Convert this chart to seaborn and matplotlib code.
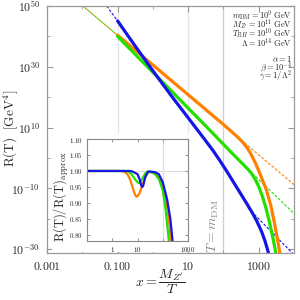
import numpy as np
import pandas as pd
import matplotlib
matplotlib.use("Agg")
import matplotlib.pyplot as plt
import seaborn as sns
from matplotlib.patches import Rectangle
from matplotlib.ticker import FixedLocator, FixedFormatter, NullFormatter

# ---------------- data (x = M_Z'/T ; values are log10 R(T)) ----------------
orange_lx = [-1.0, 0.0, 1.0, 2.0, 2.4, 2.55, 2.64, 2.75, 2.9, 3.05, 3.21, 3.34, 3.44, 3.52, 3.58, 3.62]
orange_logR = [40.4, 30.6, 20.8, 11.0, 6.9, 5.1, 3.8, 1.9, -1.5, -5.6, -10.3, -15.5, -21.1, -26.0, -30.0, -33.0]
green_lx = [-1.0, 0.0, 0.477, 1.0, 1.5, 2.14, 2.7, 2.8, 2.9, 3.0, 3.1, 3.2, 3.3, 3.4, 3.5]
green_logR = [40.0, 28.2, 22.6, 16.4, 10.5, 2.8, -3.8, -5.2, -7.0, -9.4, -12.5, -16.3, -20.9, -26.2, -32.2]
blue_lx = [-1.0, -0.5, 0.0, 0.5, 1.0, 1.5, 1.7, 1.9, 2.1, 2.35, 2.59, 2.8, 2.95, 3.08, 3.18, 3.26, 3.3]
blue_logR = [45.1, 36.8, 28.7, 20.8, 13.2, 5.6, 2.5, -0.9, -4.5, -9.2, -13.7, -17.7, -20.9, -24.2, -27.4, -30.6, -32.5]

# asymptotic (approximate) power laws, dashed
orange_hi_lx = [-1.98, -1.0]
orange_hi_logR = [50.0, 40.3]
green_hi_lx = [-1.98, -1.0]
green_hi_logR = [50.0, 40.3]
blue_hi_lx = [-1.31, -1.0]
blue_hi_logR = [50.0, 45.1]
orange_lo_lx = [2.5, 4.0]
orange_lo_logR = [5.9, -8.8]
green_lo_lx = [2.55, 4.0]
green_lo_logR = [-2.1, -18.3]
blue_lo_lx = [2.7, 4.0]
blue_lo_logR = [-16.5, -31.9]

# inset: R(T)/R(T)_approx
in_orange_x = [0.1, 1, 2, 3, 4, 5, 6, 7, 8, 9, 10, 12, 15, 20, 25, 30, 40, 60, 80, 100, 140, 180, 210]
in_orange_r = [1.0, 1.0, 1.0, 0.998, 0.99, 0.975, 0.956, 0.939, 0.926, 0.92, 0.921, 0.93, 0.952, 0.978, 0.993, 0.997, 0.996, 0.988, 0.972, 0.95, 0.9, 0.84, 0.78]
in_green_x = [0.1, 1, 3, 4, 5, 6, 8, 10, 11, 13, 16, 20, 25, 30, 40, 50, 70, 100, 130, 160, 175]
in_green_r = [1.0, 1.0, 1.0, 0.999, 0.995, 0.988, 0.974, 0.965, 0.9625, 0.965, 0.978, 0.992, 0.998, 0.998, 0.994, 0.99, 0.975, 0.94, 0.88, 0.81, 0.78]
in_blue_x = [0.1, 1, 5, 6, 8, 10, 12, 14, 15.5, 17, 20, 26, 35, 50, 70, 100, 150, 200, 245]
in_blue_r = [1.0, 1.0, 1.0, 0.999, 0.994, 0.99, 0.975, 0.955, 0.95, 0.955, 0.98, 0.998, 0.998, 0.996, 0.99, 0.965, 0.91, 0.85, 0.78]

labels_params = [r"$m_{\rm DM} = 10^{9}\ \mathrm{GeV}$",
                 r"$M_{Z^\prime} = 10^{11}\ \mathrm{GeV}$",
                 r"$T_{RH} = 10^{10}\ \mathrm{GeV}$",
                 r"$\Lambda = 10^{14}\ \mathrm{GeV}$",
                 r"$\alpha = 1$",
                 r"$\beta = 10^{-4}$",
                 r"$\gamma = 1/\Lambda^{2}$"]
xticks_main = [1e-3, 1e-1, 1e1, 1e3]
xticklabels_main = ["$0.001$", "$0.100$", "$10$", "$1000$"]
yticks_main = [1e50, 1e30, 1e10, 1e-10, 1e-30]
yticklabels_main = [r"$10^{50}$", r"$10^{30}$", r"$10^{10}$", r"$10^{-10}$", r"$10^{-30}$"]
xticks_in = [1, 10, 1000]
xticklabels_in = [r"$\mathbf{1}$", r"$\mathbf{10}$", r"$\mathbf{1000}$"]
yticks_in = [0.80, 0.85, 0.90, 0.95, 1.00, 1.05, 1.10]
yticklabels_in = [r"$\mathbf{%.2f}$" % v for v in yticks_in]

ORANGE = "#ff8000"
GREEN = "#22e000"
BLUE = "#1515e8"

sns.set_style("ticks")
plt.rcParams["mathtext.fontset"] = "cm"
plt.rcParams["font.family"] = ["DejaVu Serif"]

fig = plt.figure(figsize=(3, 3), dpi=100)
ax = fig.add_axes([47/300, 47/300, 247/300, 247/300])
ax.set_xscale("log")
ax.set_yscale("log")


def df(lx, lr):
    return pd.DataFrame({"x": 10.0 ** np.asarray(lx, float), "R": 10.0 ** np.asarray(lr, float)})

# grid lines
for gx, c in [(0.1, "#e4e4e4"), (10, "#e4e4e4"), (100, "#cfcfcf")]:
    ax.axvline(gx, color=c, lw=0.9, zorder=0)

for (lx, lr, c, ls) in [(orange_hi_lx, orange_hi_logR, ORANGE, (0, (2, 2))),
                        (green_hi_lx, green_hi_logR, GREEN, (2, (2, 2))),
                        (blue_hi_lx, blue_hi_logR, BLUE, (0, (2.5, 1.5))),
                        (orange_lo_lx, orange_lo_logR, ORANGE, (0, (2.5, 1.5))),
                        (green_lo_lx, green_lo_logR, GREEN, (0, (2.5, 1.5))),
                        (blue_lo_lx, blue_lo_logR, BLUE, (0, (2.5, 1.5)))]:
    sns.lineplot(data=df(lx, lr), x="x", y="R", ax=ax, color=c, sort=False, estimator=None,
                 lw=0.8, linestyle=ls)

for (lx, lr, c) in [(orange_lx, orange_logR, ORANGE), (green_lx, green_logR, GREEN), (blue_lx, blue_logR, BLUE)]:
    sns.lineplot(data=df(lx, lr), x="x", y="R", ax=ax, color=c, sort=False, estimator=None, lw=2.3)

ax.set_xlim(1e-3, 1e4)
ax.set_ylim(10 ** -31.3, 1e50)
ax.xaxis.set_major_locator(FixedLocator(xticks_main))
ax.xaxis.set_major_formatter(FixedFormatter(xticklabels_main))
ax.xaxis.set_minor_locator(FixedLocator([1e-2, 1, 1e2, 1e4]))
ax.xaxis.set_minor_formatter(NullFormatter())
ax.yaxis.set_major_locator(FixedLocator(yticks_main))
ax.yaxis.set_major_formatter(FixedFormatter(yticklabels_main))
ax.yaxis.set_minor_locator(FixedLocator([1e40, 1e20, 1e0, 1e-20]))
ax.yaxis.set_minor_formatter(NullFormatter())
ax.tick_params(which="both", direction="in", top=True, right=True, color="#999999", labelsize=8.5, pad=5)
ax.tick_params(which="major", length=4)
ax.tick_params(which="minor", length=2)
for s in ax.spines.values():
    s.set_color("#999999")
    s.set_linewidth(0.9)
ax.set_xlabel("")
ax.set_ylabel("")

fig.text(10.5/300, 1 - 128/300, r"$\mathrm{R(T)}\ \ [\mathrm{GeV}^{4}]$", rotation=90,
         ha="center", va="center", fontsize=9.5)
fig.text(160/300, 1 - 282/300, r"$x = \dfrac{M_{Z^\prime}}{T}$", ha="center", va="center", fontsize=10)
fig.text(213/300, 1 - 226/300, r"$T = m_{\rm DM}$", rotation=90, ha="center", va="center",
         fontsize=10, color="#8a8a8a")

ys = [16, 25, 34, 43, 59, 67.5, 76]
for t, yy in zip(labels_params, ys):
    fig.text(292/300, 1 - yy/300, t, ha="right", va="center", fontsize=6.0)

# white backdrop for the inset
fig.patches.append(Rectangle((52/300, 48.5/300), 144/300, 118.5/300, transform=fig.transFigure,
                             facecolor="white", edgecolor="none", zorder=1))

axi = fig.add_axes([87/300, 59/300, 101/300, 102/300], zorder=2)
axi.set_xscale("log")
axi.axvline(100, color="#dddddd", lw=0.8, zorder=0)
axi.axhline(1.0, color="#dddddd", lw=0.8, zorder=0)
for (x, r, c) in [(in_orange_x, in_orange_r, ORANGE), (in_green_x, in_green_r, GREEN), (in_blue_x, in_blue_r, BLUE)]:
    sns.lineplot(data=pd.DataFrame({"x": x, "r": r}), x="x", y="r", ax=axi, color=c,
                 sort=False, estimator=None, lw=1.6)
axi.set_xlim(0.1, 1000)
axi.set_ylim(0.781, 1.10)
axi.xaxis.set_major_locator(FixedLocator(xticks_in))
axi.xaxis.set_major_formatter(FixedFormatter(xticklabels_in))
axi.xaxis.set_minor_locator(FixedLocator([100]))
axi.xaxis.set_minor_formatter(NullFormatter())
axi.yaxis.set_major_locator(FixedLocator(yticks_in))
axi.yaxis.set_major_formatter(FixedFormatter(yticklabels_in))
axi.tick_params(which="both", direction="in", top=True, right=True, color="#999999", labelsize=5, pad=3)
axi.tick_params(which="major", length=2.5)
axi.tick_params(which="minor", length=2.5)
for s in axi.spines.values():
    s.set_color("#888888")
    s.set_linewidth(0.8)
axi.set_xlabel("")
axi.set_ylabel("")
fig.text(61/300, 1 - 196/300, r"$\mathrm{R(T)/R(T)}_{\rm approx}$", rotation=90,
         ha="center", va="center", fontsize=9)

fig.savefig("out.png", dpi=100)
